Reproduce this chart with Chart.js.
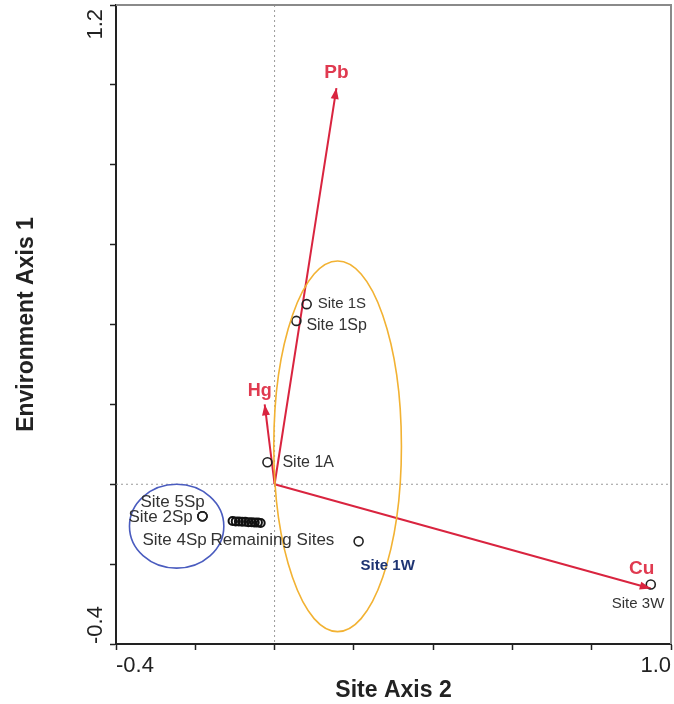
<!DOCTYPE html>
<html>
<head>
<meta charset="utf-8">
<script src="https://cdn.jsdelivr.net/npm/chart.js@4.4.1/dist/chart.umd.min.js"></script>
<style>
  html, body { margin: 0; padding: 0; background: #fff; }
  #wrap { width: 674px; height: 704px; }
</style>
</head>
<body>
<div id="wrap"><canvas id="cca"></canvas></div>
<script>
// site scores: x = Site Axis 2, y = Environment Axis 1
const siteNames = ['Site 1S', 'Site 1Sp', 'Site 1A', 'Site 5Sp', 'Site 2Sp', 'Site 4Sp', 'Site 1W', 'Site 3W'];
const siteX = [0.081, 0.055, -0.018, -0.182, -0.182, -0.182, 0.212, 0.949];
const siteY = [0.451, 0.409, 0.055, -0.080, -0.080, -0.080, -0.143, -0.251];

// the unlabelled cluster ("Remaining Sites")
const restName = 'Remaining Sites';
const restX = [-0.106, -0.098, -0.090, -0.082, -0.074, -0.066, -0.058, -0.050, -0.042, -0.035];
const restY = [-0.092, -0.093, -0.093, -0.094, -0.094, -0.095, -0.095, -0.096, -0.096, -0.097];

// environmental vectors
const envNames = ['Pb', 'Hg', 'Cu'];
const envX = [0.156, -0.025, 0.949];
const envY = [0.992, 0.200, -0.261];

// grouping ellipses (centre and half-axes in data units)
const ellipseCx = [0.159, -0.247];
const ellipseCy = [0.095, -0.105];
const ellipseRx = [0.161, 0.119];
const ellipseRy = [0.464, 0.105];

// axes
const xRange = [-0.4, 1.0];
const yRange = [-0.4, 1.2];
const tickStep = 0.2;
const xTickLabels = ['-0.4', '1.0'];
const yTickLabels = ['-0.4', '1.2'];

// styling
const RED = '#d9243f';
const ellipseColors = ['#f2b233', '#4a5cbf'];
const siteLabelOffsets = [[11, 0], [10, 5], [15, 0], [-62, -14], [-74, 1], [-60, 24], [2, 24], [-39, 19]];
const siteLabelSizes = [15, 16, 16, 17, 17, 17, 15, 15];
const restLabelOffset = [-22, 19];
const envLabelOffsets = [[0, -15], [-5, -13], [-9, -20]];
const envLabelSizes = [19, 18, 19];
const FONT = '"Liberation Sans", Arial, sans-serif';

const extras = {
  id: 'biplotExtras',
  beforeDatasetsDraw(chart) {
    const {ctx, chartArea: a, scales: {x, y}} = chart;
    ctx.save();
    ctx.strokeStyle = '#9a9a9a';
    ctx.lineWidth = 1;
    ctx.setLineDash([2, 3]);
    const x0 = x.getPixelForValue(0), y0 = y.getPixelForValue(0);
    ctx.beginPath();
    ctx.moveTo(x0, a.top); ctx.lineTo(x0, a.bottom);
    ctx.moveTo(a.left, y0); ctx.lineTo(a.right, y0);
    ctx.stroke();
    ctx.restore();
  },
  afterDatasetsDraw(chart) {
    const {ctx, scales: {x, y}} = chart;
    ctx.save();

    // ellipses
    ctx.lineWidth = 1.6;
    ellipseCx.forEach((cx, i) => {
      const px = x.getPixelForValue(cx), py = y.getPixelForValue(ellipseCy[i]);
      const rx = Math.abs(x.getPixelForValue(cx + ellipseRx[i]) - px);
      const ry = Math.abs(y.getPixelForValue(ellipseCy[i] + ellipseRy[i]) - py);
      ctx.strokeStyle = ellipseColors[i];
      ctx.beginPath();
      ctx.ellipse(px, py, rx, ry, 0, 0, Math.PI * 2);
      ctx.stroke();
    });

    // arrow heads + labels
    envNames.forEach((name, i) => {
      const meta = chart.getDatasetMeta(2 + i);
      const p0 = meta.data[0], p1 = meta.data[1];
      const ang = Math.atan2(p1.y - p0.y, p1.x - p0.x);
      const L = 11, W = 4;
      ctx.fillStyle = RED;
      ctx.beginPath();
      ctx.moveTo(p1.x, p1.y);
      ctx.lineTo(p1.x - L * Math.cos(ang) + W * Math.sin(ang), p1.y - L * Math.sin(ang) - W * Math.cos(ang));
      ctx.lineTo(p1.x - L * Math.cos(ang) - W * Math.sin(ang), p1.y - L * Math.sin(ang) + W * Math.cos(ang));
      ctx.closePath();
      ctx.fill();
      ctx.font = 'bold ' + envLabelSizes[i] + 'px ' + FONT;
      ctx.fillStyle = '#e03a50';
      ctx.textAlign = 'center';
      ctx.textBaseline = 'middle';
      ctx.fillText(name, p1.x + envLabelOffsets[i][0], p1.y + envLabelOffsets[i][1]);
    });

    // site labels
    ctx.fillStyle = '#333';
    ctx.textAlign = 'left';
    ctx.textBaseline = 'middle';
    const sites = chart.getDatasetMeta(0).data;
    siteNames.forEach((name, i) => {
      const p = sites[i];
      ctx.save();
      if (name === 'Site 1W') {
        ctx.font = 'bold ' + siteLabelSizes[i] + 'px ' + FONT;
        ctx.fillStyle = '#1e3472';
      } else {
        ctx.font = siteLabelSizes[i] + 'px ' + FONT;
      }
      ctx.fillText(name, p.x + siteLabelOffsets[i][0], p.y + siteLabelOffsets[i][1]);
      ctx.restore();
    });
    const r0 = chart.getDatasetMeta(1).data[0];
    ctx.font = '17px ' + FONT;
    ctx.fillText(restName, r0.x + restLabelOffset[0], r0.y + restLabelOffset[1]);

    ctx.restore();
  },
  afterDraw(chart) {
    const {ctx, chartArea: a, scales: {x, y}} = chart;
    ctx.save();
    // top and right frame
    ctx.strokeStyle = '#8a8a8a';
    ctx.lineWidth = 2;
    ctx.beginPath();
    ctx.moveTo(a.left, a.top); ctx.lineTo(a.right, a.top); ctx.lineTo(a.right, a.bottom);
    ctx.stroke();

    // end tick labels, aligned inward
    ctx.font = '22px ' + FONT;
    ctx.fillStyle = '#222';
    ctx.textBaseline = 'middle';
    const ly = a.bottom + 22;
    ctx.textAlign = 'left';
    ctx.fillText(xTickLabels[0], x.getPixelForValue(xRange[0]), ly);
    ctx.textAlign = 'right';
    ctx.fillText(xTickLabels[1], x.getPixelForValue(xRange[1]), ly);

    const lx = a.left - 20;
    ctx.save();
    ctx.translate(lx, y.getPixelForValue(yRange[0]));
    ctx.rotate(-Math.PI / 2);
    ctx.textAlign = 'left';
    ctx.fillText(yTickLabels[0], 0, 0);
    ctx.restore();
    ctx.save();
    ctx.translate(lx, y.getPixelForValue(yRange[1]) + 4);
    ctx.rotate(-Math.PI / 2);
    ctx.textAlign = 'right';
    ctx.fillText(yTickLabels[1], 0, 0);
    ctx.restore();
    ctx.restore();
  }
};

const vectorSets = envNames.map((name, i) => ({
  type: 'scatter',
  label: name,
  data: [{x: 0, y: 0}, {x: envX[i], y: envY[i]}],
  showLine: true,
  borderColor: RED,
  borderWidth: 2,
  pointRadius: 0
}));

new Chart(document.getElementById('cca'), {
  type: 'scatter',
  data: {
    datasets: [
      {
        label: 'Sites',
        data: siteX.map((v, i) => ({x: v, y: siteY[i]})),
        pointRadius: 4.5,
        pointBorderWidth: 1.6,
        pointBorderColor: '#222',
        pointBackgroundColor: 'rgba(255,255,255,0)'
      },
      {
        label: restName,
        data: restX.map((v, i) => ({x: v, y: restY[i]})),
        pointRadius: 4,
        pointBorderWidth: 2,
        pointBorderColor: '#111',
        pointBackgroundColor: 'rgba(255,255,255,0)'
      },
      ...vectorSets
    ]
  },
  options: {
    responsive: true,
    maintainAspectRatio: false,
    animation: false,
    layout: { autoPadding: false, padding: { top: 5, right: 3, left: 0, bottom: 0 } },
    plugins: {
      legend: { display: false },
      tooltip: { enabled: false }
    },
    scales: {
      x: {
        type: 'linear',
        min: xRange[0],
        max: xRange[1],
        ticks: { stepSize: tickStep, display: false },
        grid: { drawOnChartArea: false, drawTicks: true, tickLength: 6, tickColor: '#222', tickWidth: 1.5 },
        border: { color: '#222', width: 2 },
        title: {
          display: true,
          text: 'Site Axis 2',
          color: '#222',
          font: { family: FONT, size: 23, weight: 'bold' },
          padding: { top: 0, bottom: 0 }
        },
        afterFit(s) { s.height = 60; }
      },
      y: {
        type: 'linear',
        min: yRange[0],
        max: yRange[1],
        ticks: { stepSize: tickStep, display: false },
        grid: { drawOnChartArea: false, drawTicks: true, tickLength: 6, tickColor: '#222', tickWidth: 1.5 },
        border: { color: '#222', width: 2 },
        title: {
          display: true,
          text: 'Environment Axis 1',
          color: '#222',
          font: { family: FONT, size: 23, weight: 'bold' },
          padding: { top: 13, bottom: 0 }
        },
        afterFit(s) { s.width = 116; }
      }
    }
  },
  plugins: [extras]
});
</script>
</body>
</html>
